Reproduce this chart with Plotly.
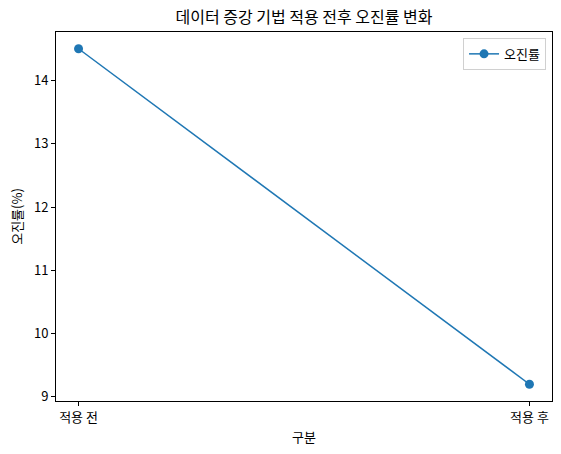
import plotly.graph_objects as go

# Données
categories = ["적용 전", "적용 후"]
taux_erreur = [14.5, 9.2]

police = "Noto Sans CJK KR"
bleu = "#1f77b4"

fig = go.Figure()
fig.add_trace(go.Scatter(x=categories, y=taux_erreur, mode="lines+markers",
                         name="오진률",
                         line=dict(color=bleu, width=1.5),
                         marker=dict(color=bleu, size=9)))

fig.update_layout(
    width=561, height=454,
    margin=dict(l=56, r=9, t=32, b=53, autoexpand=False),
    paper_bgcolor="white", plot_bgcolor="white",
    font=dict(family=police, size=13, color="black"),
    title=dict(text="데이터 증강 기법 적용 전후 오진률 변화", x=0.5, xref="paper",
               y=0.961, yref="container", yanchor="middle", automargin=False,
               font=dict(size=16)),
    showlegend=True,
    legend=dict(x=0.988, y=0.984, xanchor="right", yanchor="top",
                bgcolor="rgba(255,255,255,0.8)", bordercolor="#d0d0d0", borderwidth=1,
                font=dict(size=13), itemwidth=30),
    xaxis=dict(title=dict(text="구분", standoff=8, font=dict(size=13)), range=[-0.05, 1.05],
               automargin=False,
               showline=True, linecolor="black", linewidth=1, mirror=True,
               ticks="outside", ticklen=4, tickcolor="black",
               showgrid=False, zeroline=False),
    yaxis=dict(title=dict(text="오진률(%)", standoff=8, font=dict(size=13)), range=[8.935, 14.765],
               automargin=False,
               dtick=1, showline=True, linecolor="black", linewidth=1, mirror=True,
               ticks="outside", ticklen=4, tickcolor="black",
               showgrid=False, zeroline=False),
)

# pas de marge de page autour du graphique, pas de barre d'outils
fig.write_html("out.html", config=dict(displayModeBar=False),
               post_script="document.body.style.margin = '0';")
